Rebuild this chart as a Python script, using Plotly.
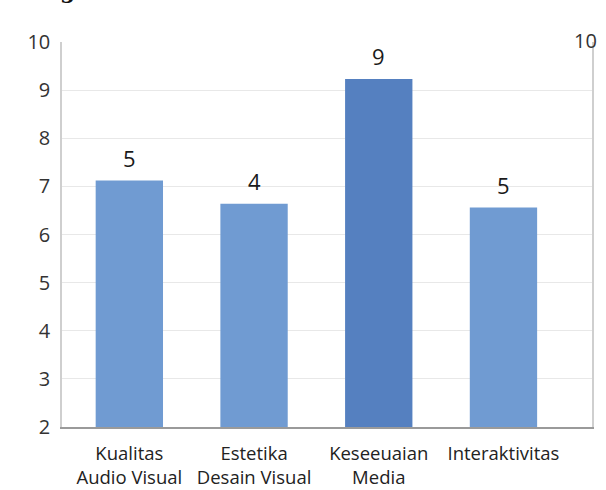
import plotly.graph_objects as go

categories = ["Kualitas<br>Audio Visual", "Estetika<br>Desain Visual", "Keseeuaian<br>Media", "Interaktivitas"]
values = [7.12, 6.64, 9.23, 6.56]
value_labels = ["5", "4", "9", "5"]
bar_colors = ["#709bd2", "#709bd2", "#5580c0", "#709bd2"]
y_ticks = [2, 3, 4, 5, 6, 7, 8, 9, 10]

FONT = "Open Sans"

fig = go.Figure()
fig.add_trace(go.Bar(
    x=categories, y=values, width=0.54,
    marker=dict(color=bar_colors, line=dict(width=0)),
    showlegend=False, hoverinfo="skip",
))
# invisible trace to activate the right axis
fig.add_trace(go.Scatter(x=[categories[0]], y=[values[0]], yaxis="y2",
                         mode="markers", marker=dict(opacity=0), showlegend=False, hoverinfo="skip"))

for c, v, t in zip(categories, values, value_labels):
    fig.add_annotation(x=c, y=v, text=t, showarrow=False, yanchor="bottom",
                       yshift=6, font=dict(family=FONT, size=22, color="#1a1a1a"))

# right-axis top label
fig.add_annotation(xref="paper", yref="y", x=1.0, y=10, text="10", showarrow=False,
                   xanchor="center", yanchor="middle", xshift=-7, yshift=2,
                   font=dict(family=FONT, size=20, color="#333"))

# cut-off title remnant at the top
fig.add_annotation(xref="paper", yref="paper", x=0.0, y=1.0, xanchor="left", yanchor="bottom",
                   yshift=37, xshift=-4, text="<b>g</b>", showarrow=False,
                   font=dict(family="DejaVu Serif", size=22, color="#111"))

fig.update_layout(
    width=606, height=490,
    margin=dict(l=62, r=14, t=42, b=63, autoexpand=False),
    paper_bgcolor="#ffffff", plot_bgcolor="#ffffff",
    font=dict(family=FONT, color="#333"),
    xaxis=dict(range=[-0.54, 3.71], showgrid=False, showline=True, linecolor="#9a9a9a",
               linewidth=2, ticks="", tickfont=dict(family=FONT, size=18.5, color="#222"),
               ticklabelstandoff=9, fixedrange=True, automargin=False),
    yaxis=dict(range=[2, 10], tickvals=y_ticks, showgrid=True, gridcolor="#e8e8e8", gridwidth=1,
               showline=True, linecolor="#cfcfcf", linewidth=1.5, ticks="", zeroline=False,
               tickfont=dict(family=FONT, size=20, color="#333"), ticklabelstandoff=6,
               automargin=False),
    yaxis2=dict(range=[2, 10], tickvals=[], overlaying="y", side="right", showgrid=False,
                showline=True, linecolor="#cfcfcf", linewidth=1.5, ticks="", zeroline=False,
                showticklabels=False, automargin=False),
)

fig.write_html("out.html", config={"displayModeBar": False})

# remove the browser's default page margin so the figure sits at the window's corner
with open("out.html", "r", encoding="utf-8") as f:
    html = f.read()
html = html.replace("<body>", '<body style="margin:0;padding:0;overflow:hidden">', 1)
with open("out.html", "w", encoding="utf-8") as f:
    f.write(html)
